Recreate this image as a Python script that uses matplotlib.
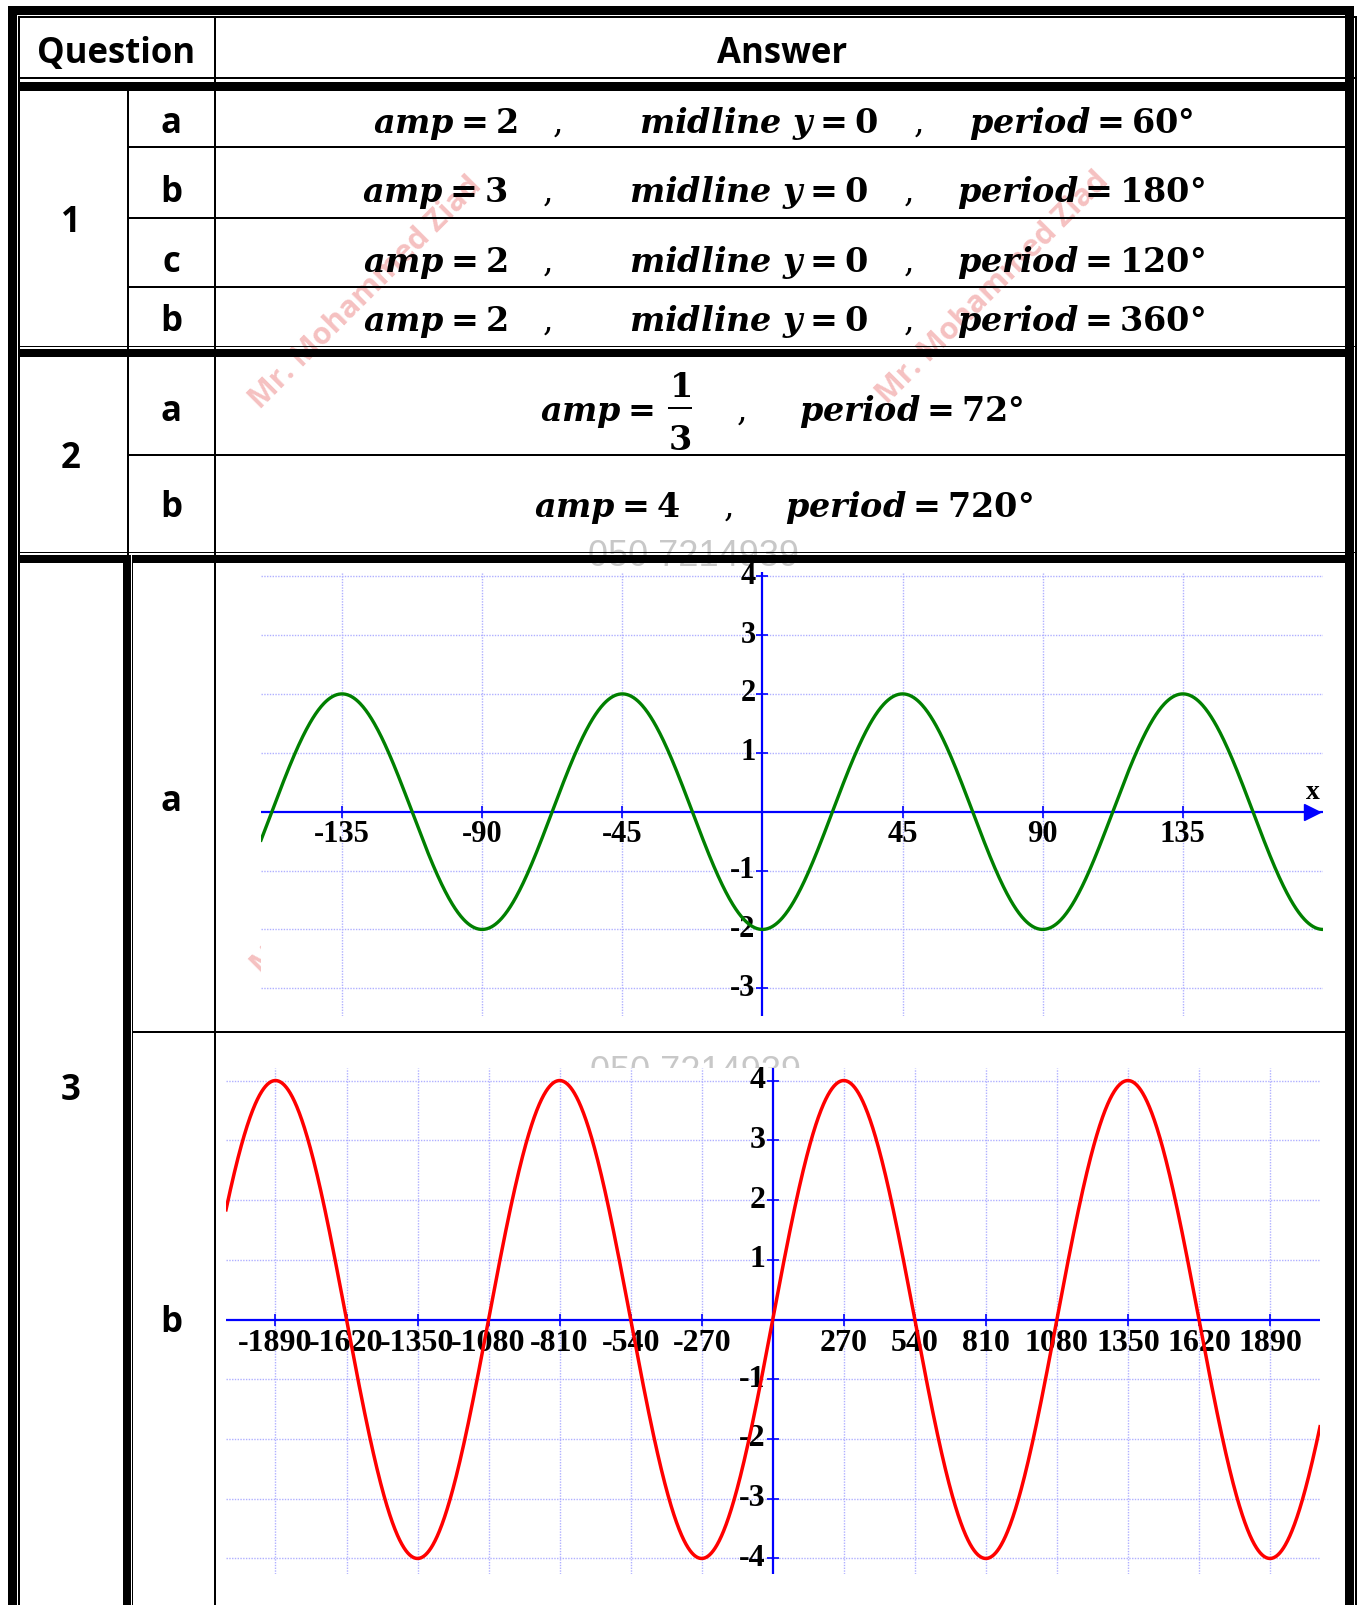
import numpy as np
import matplotlib.pyplot as plt
from matplotlib.patches import Rectangle

plt.rcParams['mathtext.fontset'] = 'custom'
plt.rcParams['mathtext.rm'] = 'DejaVu Serif:bold'
plt.rcParams['mathtext.it'] = 'DejaVu Serif:italic:bold'
plt.rcParams['mathtext.bf'] = 'DejaVu Serif:bold'

#Question 1 answers
parts_q1 = ['a', 'b', 'c', 'b']
amp_q1 = ['2', '3', '2', '2']
midline_q1 = ['0', '0', '0', '0']
period_q1 = ['60', '180', '120', '360']

#Question 2 answers
parts_q2 = ['a', 'b']
amp_q2 = ['1/3', '4']
period_q2 = ['72', '720']

#Question 3 graphs: y = -2cos(4x) and y = 4sin(x/3)
amp_3a, period_3a = -2, 90
amp_3b, period_3b = 4, 1080
xticks_3a = [-135, -90, -45, 45, 90, 135]
yticks_3a = [-3, -2, -1, 1, 2, 3, 4]
xticks_3b = [-1890, -1620, -1350, -1080, -810, -540, -270,
             270, 540, 810, 1080, 1350, 1620, 1890]
yticks_3b = [-4, -3, -2, -1, 1, 2, 3, 4]

W, H = 1360, 1605
fig = plt.figure(figsize=(W / 100, H / 100), dpi=100)
tab = fig.add_axes([0, 0, 1, 1])
tab.set_xlim(0, W)
tab.set_ylim(H, 0)
tab.axis('off')

sans = 'Open Sans'


def bar(x0, x1, y0, y1):
    tab.add_patch(Rectangle((x0, y0), x1 - x0, y1 - y0, facecolor='black',
                            edgecolor='none', zorder=5))


#watermarks
for cx, cy in [(366, 293), (993, 288), (368, 859)]:
    tab.text(cx, cy, 'Mr. Mohammed Ziad', rotation=45, ha='center', va='center',
             fontsize=22, fontweight='bold', family=sans, color='#e03030',
             alpha=0.3, zorder=1)
for cx, cy in [(694, 557), (696, 1072)]:
    tab.text(cx, cy, '050 7214939', ha='center', va='center', fontsize=26,
             family='Liberation Sans', color='#c8c8c8', zorder=1)

#outer frame
bar(8, 1354, 6, 15)
bar(18, 1357, 16, 17.5)
bar(8, 17, 6, H)
bar(18, 19.5, 16, H)
bar(1345, 1354, 6, H)
bar(1355, 1357, 16, H)
#header
bar(18, 1357, 77.3, 78.7)
bar(18, 1354, 81.7, 90.7)
bar(214, 216, 16, H)
#question 1
for y in [146.7, 218.3, 287.3]:
    bar(129, 1345, y - 1, y + 1)
bar(18, 1357, 346, 347.4)
bar(18, 1354, 349.3, 357.3)
bar(127, 129, 90, 555)
#question 2
bar(129, 1345, 454.3, 455.7)
bar(18, 1357, 551.7, 553.3)
bar(18, 130.7, 555, 563.3)
bar(132, 1354, 555, 563.3)
#question 3
bar(122.7, 130.7, 555, H)
bar(132, 133.3, 563, H)
bar(133, 1345, 1031, 1033)

lab = dict(ha='center', va='baseline', fontsize=25, fontweight='bold',
           family=sans, zorder=6)
tab.text(116, 63, 'Question', **lab)
tab.text(782, 63, 'Answer', **lab)
tab.text(71, 232, '1', **lab)
tab.text(71, 468, '2', **lab)
tab.text(71, 1100, '3', **lab)

math = dict(ha='center', va='baseline', fontsize=24, zorder=6)
comma = dict(ha='center', va='baseline', fontsize=24, family='DejaVu Serif', zorder=6)

base_q1 = [133, 202, 272, 331]
for i in range(len(parts_q1)):
    y = base_q1[i]
    dx = 10 if i == 0 else 0
    tab.text(171, y, parts_q1[i], **lab)
    tab.text(435 + dx, y, rf'$amp = {amp_q1[i]}$', **math)
    tab.text(548 + dx, y, ',', **comma)
    tab.text(749 + dx, y, rf'$midline\ y = {midline_q1[i]}$', **math)
    tab.text(909 + dx, y, ',', **comma)
    tab.text(1081, y, rf'$period = {period_q1[i]}°$', **math)

base_q2 = [421, 517]
comma_x2 = [742, 729]
period_x2 = [911, 909]
for i in range(len(parts_q2)):
    y = base_q2[i]
    tab.text(171, y, parts_q2[i], **lab)
    if '/' in amp_q2[i]:
        #stacked fraction, full size like the reference
        num, den = amp_q2[i].split('/')
        tab.text(597, y, r'$amp =$', **math)
        tab.text(680, 397, rf'${num}$', **math)
        tab.text(680, 450, rf'${den}$', **math)
        bar(668, 692, 406.5, 408.5)
    else:
        tab.text(607, y, rf'$amp = {amp_q2[i]}$', **math)
    tab.text(comma_x2[i], y, ',', **comma)
    tab.text(period_x2[i], y, rf'$period = {period_q2[i]}°$', **math)

tab.text(171, 811, 'a', **lab)
tab.text(171, 1332, 'b', **lab)


def graph(x0, x1, y0, y1, xlim, ylim, xticks, yticks, fs, dy):
    ax = fig.add_axes([x0 / W, 1 - y1 / H, (x1 - x0) / W, (y1 - y0) / H])
    ax.set_xlim(xlim)
    ax.set_ylim(ylim)
    ax.set_xticks([])
    ax.set_yticks([])
    for s in ax.spines.values():
        s.set_visible(False)
    ax.hlines(yticks, xlim[0], xlim[1], colors='#b0b0ff', linestyles=(0, (1, 1)), lw=1, zorder=1)
    ax.vlines(xticks, ylim[0], ylim[1], colors='#b0b0ff', linestyles=(0, (1, 1)), lw=1, zorder=1)
    ax.axhline(0, color='blue', lw=1.6, zorder=2)
    ax.axvline(0, color='blue', lw=1.6, zorder=2)
    ax.plot(xticks, [0] * len(xticks), ls='none', marker='|', ms=8, mew=1.2, color='blue', zorder=2)
    ax.plot([0] * len(yticks), yticks, ls='none', marker='_', ms=8, mew=1.2, color='blue', zorder=2)
    for xt in xticks:
        ax.annotate(str(xt), (xt, 0), xytext=(0, dy), textcoords='offset points',
                    ha='center', va='center', fontsize=fs, fontweight='bold',
                    family='Liberation Serif', zorder=3)
    for yt in yticks:
        ax.annotate(str(yt), (0, yt), xytext=(-5, 0), textcoords='offset points',
                    ha='right', va='center', fontsize=fs, fontweight='bold',
                    family='Liberation Serif', zorder=3)
    return ax


#graph 3a
ax_a = graph(261, 1323, 572, 1016, (-161, 180), (-3.47, 4.07), xticks_3a, yticks_3a, 22, -16.5)
xa = np.linspace(-161, 180, 1500)
ya = amp_3a * np.cos(np.radians(360 * xa / period_3a))
ax_a.plot(xa, ya, color='#008000', lw=2.4, zorder=4)
ax_a.plot([176.5], [0], marker='>', ms=11, color='blue', clip_on=False, zorder=4)
ax_a.annotate('x', (180, 0), xytext=(-7, 14), textcoords='offset points', ha='center',
              va='center', fontsize=20, fontweight='bold', family='Liberation Serif')

#graph 3b
ax_b = graph(226, 1320, 1068, 1574, (-2078, 2080), (-4.26, 4.21), xticks_3b, yticks_3b, 23, -17.5)
xb = np.linspace(-2078, 2080, 3000)
yb = amp_3b * np.sin(np.radians(360 * xb / period_3b))
ax_b.plot(xb, yb, color='#ff0000', lw=2.5, zorder=4)

fig.savefig('out.png', dpi=100)
